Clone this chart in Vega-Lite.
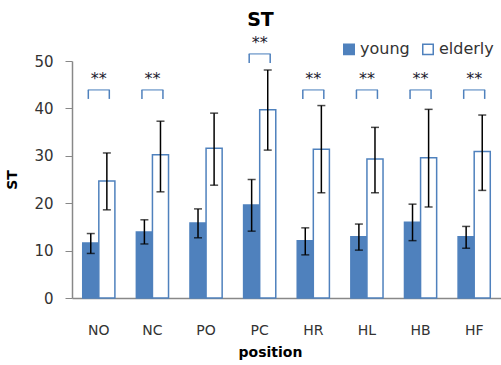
{
  "$schema": "https://vega.github.io/schema/vega-lite/v6.json",
  "width": 429,
  "height": 237,
  "autosize": "none",
  "padding": {"left": 72, "top": 61, "right": 0, "bottom": 67},
  "background": "white",
  "config": {"view": {"stroke": null}, "font": "DejaVu Sans"},
  "title": {"text": "ST", "fontSize": 19, "fontWeight": "bold", "color": "#000", "anchor": "middle", "dx": -26, "offset": 5},
  "datasets": {
    "bars": [
      {"position": "NO", "group": "young", "mean": 11.6, "lo": 9.4, "hi": 13.6},
      {"position": "NO", "group": "elderly", "mean": 24.7, "lo": 18.6, "hi": 30.6},
      {"position": "NC", "group": "young", "mean": 13.9, "lo": 11.4, "hi": 16.5},
      {"position": "NC", "group": "elderly", "mean": 30.2, "lo": 22.4, "hi": 37.3},
      {"position": "PO", "group": "young", "mean": 15.8, "lo": 12.7, "hi": 18.8},
      {"position": "PO", "group": "elderly", "mean": 31.6, "lo": 23.8, "hi": 39.0},
      {"position": "PC", "group": "young", "mean": 19.6, "lo": 14.1, "hi": 25.0},
      {"position": "PC", "group": "elderly", "mean": 39.7, "lo": 31.2, "hi": 48.1},
      {"position": "HR", "group": "young", "mean": 12.1, "lo": 9.1, "hi": 14.8},
      {"position": "HR", "group": "elderly", "mean": 31.4, "lo": 22.2, "hi": 40.6},
      {"position": "HL", "group": "young", "mean": 12.9, "lo": 10.1, "hi": 15.6},
      {"position": "HL", "group": "elderly", "mean": 29.3, "lo": 22.2, "hi": 36.0},
      {"position": "HB", "group": "young", "mean": 16.0, "lo": 12.1, "hi": 19.8},
      {"position": "HB", "group": "elderly", "mean": 29.6, "lo": 19.2, "hi": 39.8},
      {"position": "HF", "group": "young", "mean": 12.9, "lo": 10.5, "hi": 15.1},
      {"position": "HF", "group": "elderly", "mean": 30.9, "lo": 22.7, "hi": 38.6}
    ],
    "sig": [
      {"position": "NO", "blo": 42.0, "bhi": 43.9, "star": 46.2, "label": "**"},
      {"position": "NC", "blo": 42.0, "bhi": 43.9, "star": 46.2, "label": "**"},
      {"position": "PC", "blo": 49.6, "bhi": 51.5, "star": 53.7, "label": "**"},
      {"position": "HR", "blo": 42.0, "bhi": 43.9, "star": 46.2, "label": "**"},
      {"position": "HL", "blo": 42.0, "bhi": 43.9, "star": 46.2, "label": "**"},
      {"position": "HB", "blo": 42.0, "bhi": 43.9, "star": 46.2, "label": "**"},
      {"position": "HF", "blo": 42.0, "bhi": 43.9, "star": 46.2, "label": "**"}
    ]
  },
  "encoding": {
    "x": {
      "field": "position", "type": "nominal", "sort": ["NO", "NC", "PO", "PC", "HR", "HL", "HB", "HF"],
      "scale": {"paddingInner": 0.4, "paddingOuter": 0.2},
      "axis": {"labelAngle": 0, "ticks": false, "labelPadding": 25, "labelFontSize": 14, "labelColor": "#333", "domainColor": "#888", "domainWidth": 1.5,
               "title": "position", "titleFontSize": 14, "titleFontWeight": "bold", "titleColor": "#000", "titlePadding": 8, "titleX": 198}
    }
  },
  "layer": [
    {
      "data": {"name": "bars"},
      "mark": {"type": "bar", "stroke": "#4F81BD", "strokeWidth": 1.5},
      "encoding": {
        "xOffset": {"field": "group", "type": "nominal", "sort": ["young", "elderly"]},
        "y": {"field": "mean", "type": "quantitative", "scale": {"domain": [0, 50]},
              "axis": {"values": [0, 10, 20, 30, 40, 50], "grid": false, "tickSize": 7, "tickColor": "#888", "domainColor": "#888", "domainWidth": 1.5,
                       "labelFontSize": 15, "labelColor": "#333", "labelPadding": 12,
                       "title": "ST", "titleFontSize": 14, "titleFontWeight": "bold", "titleColor": "#000", "titlePadding": 14}},
        "fill": {"field": "group", "type": "nominal", "sort": ["young", "elderly"],
                 "scale": {"domain": ["young", "elderly"], "range": ["#4F81BD", "#FFFFFF"]},
                 "legend": {"title": null, "orient": "none", "direction": "horizontal", "legendX": 269, "legendY": -20,
                            "symbolType": "square", "symbolSize": 110, "symbolStrokeColor": "#4F81BD", "symbolStrokeWidth": 1.5,
                            "labelFontSize": 16, "labelColor": "#333", "columnPadding": 9, "labelOffset": 3}}
      }
    },
    {
      "data": {"name": "bars"},
      "mark": {"type": "rule", "color": "#000", "strokeWidth": 1.5},
      "encoding": {
        "xOffset": {"field": "group", "type": "nominal", "sort": ["young", "elderly"]},
        "y": {"field": "lo", "type": "quantitative"},
        "y2": {"field": "hi"}
      }
    },
    {
      "data": {"name": "bars"},
      "mark": {"type": "tick", "color": "#000", "thickness": 1.5, "size": 8, "orient": "horizontal"},
      "encoding": {
        "xOffset": {"field": "group", "type": "nominal", "sort": ["young", "elderly"]},
        "y": {"field": "hi", "type": "quantitative"}
      }
    },
    {
      "data": {"name": "bars"},
      "mark": {"type": "tick", "color": "#000", "thickness": 1.5, "size": 8, "orient": "horizontal"},
      "encoding": {
        "xOffset": {"field": "group", "type": "nominal", "sort": ["young", "elderly"]},
        "y": {"field": "lo", "type": "quantitative"}
      }
    },
    {
      "data": {"name": "sig"},
      "mark": {"type": "rule", "color": "#4F81BD", "strokeWidth": 1.5, "xOffset": -10.5},
      "encoding": {"y": {"field": "blo", "type": "quantitative"}, "y2": {"field": "bhi"}}
    },
    {
      "data": {"name": "sig"},
      "mark": {"type": "rule", "color": "#4F81BD", "strokeWidth": 1.5, "xOffset": 10.5},
      "encoding": {"y": {"field": "blo", "type": "quantitative"}, "y2": {"field": "bhi"}}
    },
    {
      "data": {"name": "sig"},
      "mark": {"type": "tick", "color": "#4F81BD", "thickness": 1.5, "size": 22, "orient": "horizontal"},
      "encoding": {"y": {"field": "bhi", "type": "quantitative"}}
    },
    {
      "data": {"name": "sig"},
      "mark": {"type": "text", "color": "#1a1a2e", "fontSize": 16, "baseline": "middle"},
      "encoding": {"y": {"field": "star", "type": "quantitative"}, "text": {"field": "label"}}
    }
  ]
}
